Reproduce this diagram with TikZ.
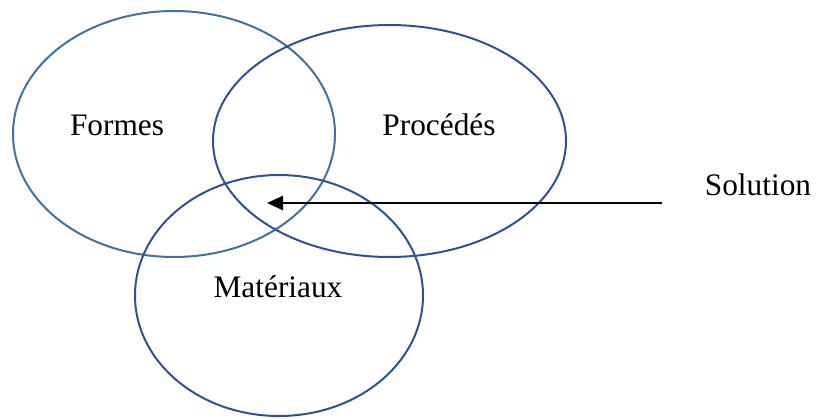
\documentclass[tikz,border=0pt]{standalone}
\usepackage{fontspec}
\setmainfont{Liberation Serif}
\usetikzlibrary{arrows.meta}
\definecolor{lightring}{RGB}{65,113,156}
\definecolor{darkring}{RGB}{47,82,143}
\begin{document}
\begin{tikzpicture}[x=0.75pt,y=-0.75pt,
  ring/.style={draw=darkring,line width=1.5pt},
  lbl/.style={anchor=base,inner sep=0pt,font=\fontsize{23.5pt}{28pt}\selectfont}]
\useasboundingbox (0,0) rectangle (816,418);
\draw[ring,draw=lightring] (174,134) ellipse [x radius=161, y radius=123];
\draw[ring] (389.5,141) ellipse [x radius=176.5, y radius=116];
\draw[ring] (279,295.5) ellipse [x radius=144, y radius=120.5];
\node[lbl] (formes) at (117,135) {Formes};
\node[lbl] (procedes) at (439,135) {Procédés};
\node[lbl] (materiaux) at (278,297) {Matériaux};
\node[lbl] (solution) at (758,195) {Solution};
\coordinate (astart) at (662,203);
\coordinate (aend) at (267,203);
\draw[line width=1.9pt,-{Triangle[length=12pt,width=10.5pt]}] (astart) -- (aend);
\end{tikzpicture}
\end{document}
